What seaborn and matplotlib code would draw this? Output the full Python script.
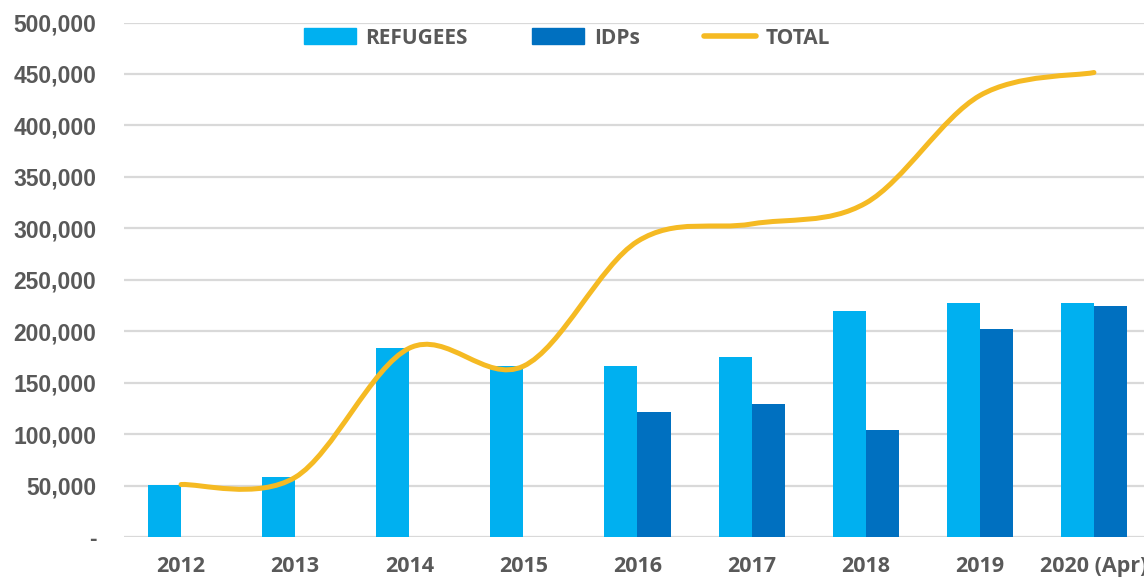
import matplotlib
matplotlib.use('Agg')
import matplotlib.pyplot as plt
import seaborn as sns
import pandas as pd
import numpy as np
from matplotlib.path import Path
from matplotlib.patches import PathPatch
from matplotlib.lines import Line2D
from matplotlib.ticker import FuncFormatter

# data
years = ['2012', '2013', '2014', '2015', '2016', '2017', '2018', '2019', '2020 (Apr)']
refugees = [51000, 58000, 183500, 166000, 165700, 174800, 220100, 227000, 227000]
idps = [0, 0, 0, 0, 121600, 129400, 104400, 202000, 224400]

REF_COLOR = '#00B0F0'
IDP_COLOR = '#0070C0'
TOTAL_COLOR = '#F5BA23'
TEXT_COLOR = '#595959'
GRID_COLOR = '#D9D9D9'

sns.set_theme(style='white')

df = pd.DataFrame({
    'year': years * 2,
    'group': ['REFUGEES'] * len(years) + ['IDPs'] * len(years),
    'value': refugees + idps,
})
totals = [r + i for r, i in zip(refugees, idps)]

fig = plt.figure(figsize=(11.44, 5.81), dpi=100)
ax = fig.add_axes([124 / 1144, 44 / 581, (1151 - 124) / 1144, (537 - 22.5) / 581])

sns.barplot(data=df, x='year', y='value', hue='group', order=years,
            hue_order=['REFUGEES', 'IDPs'], palette=[REF_COLOR, IDP_COLOR],
            width=0.58, linewidth=0, saturation=1, legend=False, ax=ax, zorder=2)

# smoothed total line (Catmull-Rom style bezier, like the spreadsheet "smoothed line")
pts = np.column_stack([np.arange(len(totals)), totals]).astype(float)
verts = [pts[0]]
codes = [Path.MOVETO]
for k in range(len(pts) - 1):
    p0 = pts[k - 1] if k > 0 else pts[k]
    p1, p2 = pts[k], pts[k + 1]
    p3 = pts[k + 2] if k + 2 < len(pts) else pts[k + 1]
    verts += [p1 + (p2 - p0) / 6, p2 - (p3 - p1) / 6, p2]
    codes += [Path.CURVE4] * 3
ax.add_patch(PathPatch(Path(verts, codes), fill=False, edgecolor=TOTAL_COLOR,
                       linewidth=3.6, capstyle='round', joinstyle='round', zorder=3))

ax.set_xlim(-0.5, len(years) - 0.5)
ax.set_ylim(0, 500000)
ax.set_yticks(np.arange(0, 500001, 50000))
ax.yaxis.set_major_formatter(FuncFormatter(lambda v, p: '-' if v == 0 else f'{int(v):,}'))
ax.grid(True, axis='y', color=GRID_COLOR, linewidth=1.6, zorder=0)
ax.set_axisbelow(True)
for s in ax.spines.values():
    s.set_visible(False)
ax.set_xlabel('')
ax.set_ylabel('')
ax.tick_params(axis='y', length=0, pad=20, labelcolor=TEXT_COLOR)
ax.tick_params(axis='x', length=0, pad=14, labelcolor=TEXT_COLOR)
for lab in ax.get_yticklabels():
    lab.set_fontfamily(['Liberation Sans', 'DejaVu Sans'])
    lab.set_fontweight('bold')
    lab.set_fontsize(16.5)
for lab in ax.get_xticklabels():
    lab.set_fontfamily(['Open Sans', 'DejaVu Sans'])
    lab.set_fontweight('bold')
    lab.set_fontsize(15.5)

handles = [
    plt.Rectangle((0, 0), 1, 1, color=REF_COLOR),
    plt.Rectangle((0, 0), 1, 1, color=IDP_COLOR),
    Line2D([0], [0], color=TOTAL_COLOR, linewidth=4, solid_capstyle='round'),
]
leg = fig.legend(handles, ['REFUGEES', 'IDPs', 'TOTAL'], loc='center',
                 bbox_to_anchor=(567 / 1144, 1 - 38 / 581), ncol=3, frameon=False,
                 handlelength=2.5, handleheight=0.8, handletextpad=0.45, columnspacing=3.1,
                 prop={'family': ['Open Sans', 'DejaVu Sans'], 'weight': 'bold', 'size': 15})
for t in leg.get_texts():
    t.set_color(TEXT_COLOR)

fig.savefig('out.png', dpi=100)
